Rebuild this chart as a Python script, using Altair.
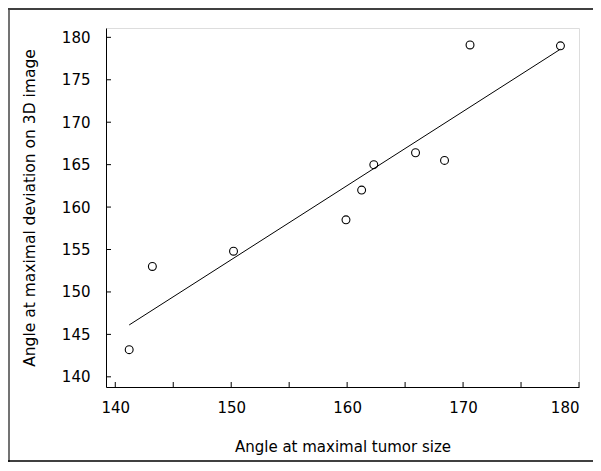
import altair as alt
import pandas as pd

# Data
tumor_angle = [141.2, 143.2, 150.2, 159.9, 161.25, 162.3, 165.9, 168.4, 170.6, 178.4]
deviation_angle = [143.2, 153.0, 154.8, 158.5, 162.0, 165.0, 166.4, 165.5, 179.1, 179.0]
x_tick_values = [140, 145, 150, 155, 160, 165, 170, 175, 180]
y_tick_values = [140, 145, 150, 155, 160, 165, 170, 175, 180]
x_label_values = [140, 150, 160, 170, 180]
y_label_values = [140, 145, 150, 155, 160, 165, 170, 175, 180]

W, H = 473, 359
FONT = "DejaVu Sans"

df = pd.DataFrame({"tumor": tumor_angle, "dev": deviation_angle})
xt = pd.DataFrame({"tumor": x_tick_values})
yt = pd.DataFrame({"dev": y_tick_values})
one = pd.DataFrame({"k": [0]})

xscale = alt.Scale(domain=[139.2, 180], nice=False, zero=False)
yscale = alt.Scale(domain=[138.8, 181.1], nice=False, zero=False)

xaxis = alt.Axis(values=x_label_values, ticks=False, tickSize=0, grid=False,
                 domainColor="black", domainWidth=1, labelFontSize=15, labelFont=FONT,
                 labelColor="black", labelPadding=13, title="Angle at maximal tumor size",
                 titleFont=FONT, titleFontSize=15, titleFontWeight="normal",
                 titleColor="black", titlePadding=24)
yaxis = alt.Axis(values=y_label_values, ticks=False, tickSize=0, grid=False,
                 domainColor="black", domainWidth=1, labelFontSize=15, labelFont=FONT,
                 labelColor="black", labelPadding=16,
                 title="Angle at maximal deviation on 3D image",
                 titleFont=FONT, titleFontSize=15.5, titleFontWeight="normal",
                 titleColor="black", titlePadding=24)

points = alt.Chart(df).mark_point(shape="circle", filled=False, color="black",
                                  size=62, strokeWidth=1.1, opacity=1).encode(
    x=alt.X("tumor:Q", scale=xscale, axis=xaxis),
    y=alt.Y("dev:Q", scale=yscale, axis=yaxis),
)

fit = alt.Chart(df).transform_regression("tumor", "dev").mark_line(
    color="black", strokeWidth=1).encode(
    x=alt.X("tumor:Q", scale=xscale),
    y=alt.Y("dev:Q", scale=yscale),
)

xticks = alt.Chart(xt).mark_rule(color="black", strokeWidth=1).encode(
    x=alt.X("tumor:Q", scale=xscale),
    y=alt.value(H), y2=alt.value(H - 5),
)
yticks = alt.Chart(yt).mark_rule(color="black", strokeWidth=1).encode(
    y=alt.Y("dev:Q", scale=yscale),
    x=alt.value(0), x2=alt.value(5),
)

frame_top = alt.Chart(one).mark_rule(color="black", strokeWidth=1.5).encode(
    x=alt.value(-98), x2=alt.value(W + 14), y=alt.value(-19))
frame_left = alt.Chart(one).mark_rule(color="#444444", strokeWidth=1.5).encode(
    x=alt.value(-97), y=alt.value(-19), y2=alt.value(H + 75))
frame_bottom = alt.Chart(one).mark_rule(color="black", strokeWidth=1.5).encode(
    x=alt.value(-98), x2=alt.value(W + 14), y=alt.value(H + 74))

chart = alt.layer(frame_top, frame_left, frame_bottom, fit, xticks, yticks, points).properties(
    width=W, height=H,
    autosize=alt.AutoSizeParams(type="none"),
    padding={"left": 98, "top": 20, "right": 14, "bottom": 76},
).configure_view(stroke=None).configure(background="white")

chart.save("out.html", embed_options={"renderer": "svg", "actions": False})
